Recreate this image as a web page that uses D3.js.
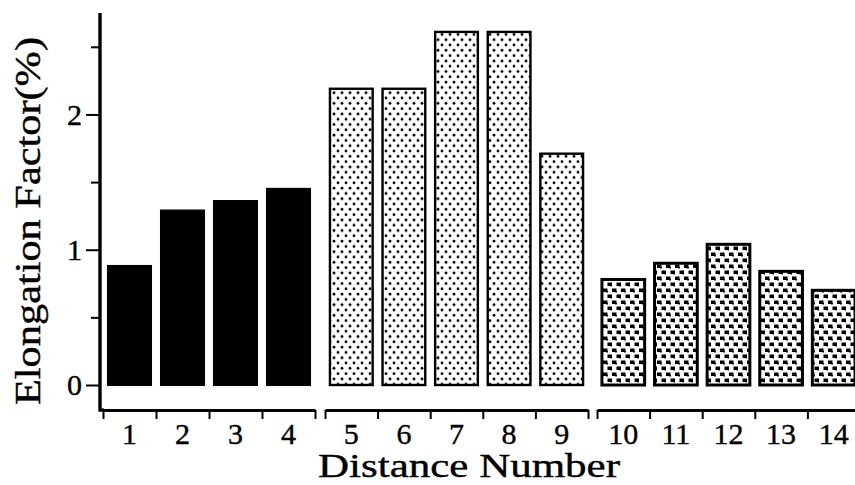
<!DOCTYPE html>
<html><head><meta charset="utf-8">
<script src="https://cdn.jsdelivr.net/npm/d3@7"></script>
<style>body{margin:0;background:#fff} svg{display:block}</style>
</head><body><svg id="c" width="855" height="485"></svg>
<script>
// ---- data ----
const group1 = ["1","2","3","4"];
const group2 = ["5","6","7","8","9"];
const group3 = ["10","11","12","13","14"];
const values1 = [0.88, 1.29, 1.36, 1.45];
const values2 = [2.19, 2.19, 2.61, 2.61, 1.71];
const values3 = [0.78, 0.90, 1.04, 0.84, 0.70];
const yMajorTicks = [0, 1, 2];
const yMinorTicks = [0.5, 1.5, 2.5];
const xTitle = "Distance Number";
const yTitle = "Elongation Factor(%)";

// ---- layout ----
const svg = d3.select("#c");
const FONT = "'Liberation Serif','Times New Roman',serif";
const defs = svg.append("defs");

// patterns
const pDots = defs.append("pattern").attr("id","dots").attr("patternUnits","userSpaceOnUse")
  .attr("width",8).attr("height",10.6);
pDots.append("rect").attr("width",8).attr("height",10.6).attr("fill","#fff");
pDots.append("circle").attr("cx",2).attr("cy",2.6).attr("r",1.4).attr("fill","#000");
pDots.append("circle").attr("cx",6).attr("cy",7.9).attr("r",1.4).attr("fill","#000");

const pBlk = defs.append("pattern").attr("id","blocks").attr("patternUnits","userSpaceOnUse")
  .attr("width",9).attr("height",12);
pBlk.append("rect").attr("width",9).attr("height",12).attr("fill","#fff");
pBlk.append("rect").attr("x",0).attr("y",0.5).attr("width",4.5).attr("height",3.5).attr("fill","#000");
pBlk.append("rect").attr("x",4.5).attr("y",6.5).attr("width",4.5).attr("height",3.5).attr("fill","#000");
pBlk.append("rect").attr("x",3).attr("y",3).attr("width",2).attr("height",1.5).attr("fill","#000");
pBlk.append("rect").attr("x",7.5).attr("y",9).attr("width",2).attr("height",1.5).attr("fill","#000");

const y = d3.scaleLinear().domain([0, 2.75]).range([385, 13]);

const groups = [
  {cats: group1, vals: values1, range: [103, 315], fill: "#000", sw: 2},
  {cats: group2, vals: values2, range: [325, 588], fill: "url(#dots)", sw: 2.4},
  {cats: group3, vals: values3, range: [597, 860], fill: "url(#blocks)", sw: 3}
];

const axisY = 410;

groups.forEach(g => {
  const band = d3.scaleBand().domain(g.cats).range(g.range).paddingInner(0.15).paddingOuter(0.075);
  svg.append("g").selectAll("rect").data(g.cats.map((c,i)=>({c, v:g.vals[i]}))).join("rect")
    .attr("x", d => band(d.c) + 1)
    .attr("width", band.bandwidth() - 2)
    .attr("y", d => y(d.v))
    .attr("height", d => y(0) - y(d.v))
    .attr("fill", g.fill)
    .attr("stroke", "#000")
    .attr("stroke-width", g.sw);

  const edge = d3.scaleLinear().domain([0, g.cats.length]).range(g.range);
  const ax = svg.append("g").attr("transform", `translate(0,${axisY})`)
    .call(d3.axisBottom(edge).tickValues(d3.range(g.cats.length + 1)).tickSize(9).tickSizeOuter(0).tickFormat(""));
  ax.select(".domain").attr("stroke-width", 3.2).attr("stroke","#000");
  ax.selectAll(".tick line").attr("stroke-width", 2).attr("stroke","#000");

  const lab = svg.append("g").attr("transform", `translate(0,${axisY})`)
    .call(d3.axisBottom(band).tickSize(0).tickPadding(0));
  lab.select(".domain").remove();
  lab.selectAll("text").attr("font-family", FONT).attr("font-size", 30).attr("fill","#000")
    .attr("stroke","#000").attr("stroke-width",0.4)
    .attr("dy", null).attr("y", 34);
});

svg.append("line").attr("x1", 99).attr("x2", 104).attr("y1", axisY).attr("y2", axisY)
  .attr("stroke","#000").attr("stroke-width",3.2);

// y axis
svg.append("line").attr("x1",100).attr("x2",100).attr("y1", y(2.75)).attr("y2", axisY + 1.6)
  .attr("stroke","#000").attr("stroke-width",3.4);
const yax = svg.append("g").attr("transform","translate(100,0)")
  .call(d3.axisLeft(y).tickValues(yMajorTicks).tickSize(14).tickPadding(4).tickFormat(d3.format("d")));
yax.select(".domain").remove();
yax.selectAll(".tick line").attr("stroke-width",2).attr("stroke","#000");
yax.selectAll("text").attr("font-family", FONT).attr("font-size", 30).attr("fill","#000")
  .attr("stroke","#000").attr("stroke-width",0.4);
const ymin = svg.append("g").attr("transform","translate(100,0)")
  .call(d3.axisLeft(y).tickValues(yMinorTicks).tickSize(9).tickFormat(""));
ymin.select(".domain").remove();
ymin.selectAll(".tick line").attr("stroke-width",2).attr("stroke","#000");

// titles
svg.append("text").attr("x", 469).attr("y", 477).attr("text-anchor","middle")
  .attr("font-family", FONT).attr("font-size", 34).attr("textLength", 302).attr("lengthAdjust","spacingAndGlyphs")
  .attr("stroke","#000").attr("stroke-width",0.4)
  .text(xTitle);
svg.append("text").attr("transform","translate(40,221) rotate(-90)").attr("text-anchor","middle")
  .attr("font-family", FONT).attr("font-size", 36).attr("textLength", 368).attr("lengthAdjust","spacingAndGlyphs")
  .attr("stroke","#000").attr("stroke-width",0.4)
  .text(yTitle);
</script></body></html>
